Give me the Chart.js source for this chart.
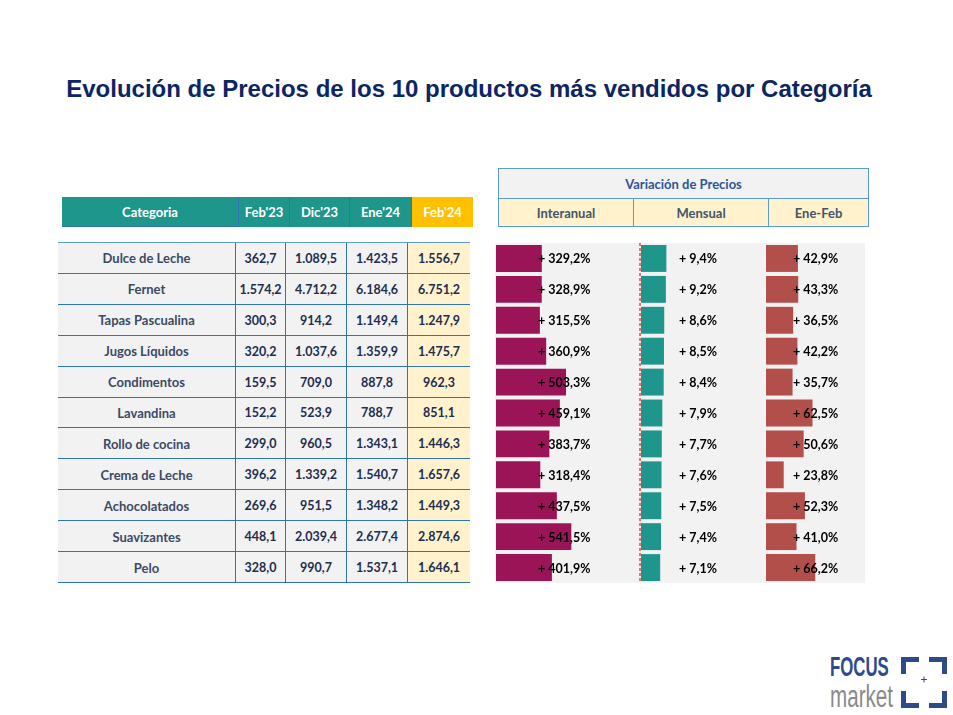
<!DOCTYPE html>
<html lang="es">
<head>
<meta charset="utf-8">
<title>Evolución de Precios</title>
<script src="https://cdn.jsdelivr.net/npm/chart.js@4.4.1/dist/chart.umd.min.js"></script>
<style>
  body { margin: 0; background: #fff; }
  #page { position: relative; width: 953px; height: 715px; overflow: hidden; font-family: Lato, "Open Sans", sans-serif; }
  .abs { position: absolute; box-sizing: border-box; }
  .cell { display: flex; align-items: center; justify-content: center; font-weight: bold; white-space: nowrap; }
  #title { left: 0; width: 938px; top: 75px; text-align: center; font: bold 24px "Liberation Sans", Arial, sans-serif; color: #0c2565; }
  canvas { position: absolute; }
</style>
</head>
<body>
<div id="page">
  <div id="title" class="abs">Evolución de Precios de los 10 productos más vendidos por Categoría</div>
</div>
<script>
// datos
const categorias = ["Dulce de Leche", "Fernet", "Tapas Pascualina", "Jugos Líquidos", "Condimentos", "Lavandina",
                    "Rollo de cocina", "Crema de Leche", "Achocolatados", "Suavizantes", "Pelo"];
const periodos = ["Feb'23", "Dic'23", "Ene'24", "Feb'24"];
const feb23 = [362.7, 1574.2, 300.3, 320.2, 159.5, 152.2, 299.0, 396.2, 269.6, 448.1, 328.0];
const dic23 = [1089.5, 4712.2, 914.2, 1037.6, 709.0, 523.9, 960.5, 1339.2, 951.5, 2039.4, 990.7];
const ene24 = [1423.5, 6184.6, 1149.4, 1359.9, 887.8, 788.7, 1343.1, 1540.7, 1348.2, 2677.4, 1537.1];
const feb24 = [1556.7, 6751.2, 1247.9, 1475.7, 962.3, 851.1, 1446.3, 1657.6, 1449.3, 2874.6, 1646.1];
const variaciones = ["Interanual", "Mensual", "Ene-Feb"];
const interanual = [329.2, 328.9, 315.5, 360.9, 503.3, 459.1, 383.7, 318.4, 437.5, 541.5, 401.9];
const mensual = [9.4, 9.2, 8.6, 8.5, 8.4, 7.9, 7.7, 7.6, 7.5, 7.4, 7.1];
const eneFeb = [42.9, 43.3, 36.5, 42.2, 35.7, 62.5, 50.6, 23.8, 52.3, 41.0, 66.2];

const page = document.getElementById('page');
const BLUE = '#2e75b6', LBLUE = '#5b9bd5', TEAL = '#1f968b';
const TOP = 243, BOTTOM = 583, rowH = (BOTTOM - TOP) / categorias.length;

function fmt(v) {
    const parts = v.toFixed(1).split('.');
    return parts[0].replace(/\B(?=(\d{3})+(?!\d))/g, '.') + ',' + parts[1];
}

function box(x, y, w, h, css, text) {
    const d = document.createElement('div');
    d.className = 'abs' + (text !== undefined ? ' cell' : '');
    d.style.left = x + 'px'; d.style.top = y + 'px';
    d.style.width = w + 'px'; d.style.height = h + 'px';
    Object.assign(d.style, css || {});
    if (text !== undefined) d.textContent = text;
    page.appendChild(d);
    return d;
}

// encabezado tabla izquierda
const hdrX = [62, 239, 290, 350, 412, 473];
const hdrTxt = ["Categoria"].concat(periodos);
hdrTxt.forEach((t, i) => {
    const last = i === hdrTxt.length - 1;
    box(hdrX[i], 197, hdrX[i + 1] - hdrX[i], 30, {
        background: last ? '#ffc000' : TEAL,
        color: '#fff', fontSize: '13px',
        borderRight: last ? 'none' : '1px solid ' + BLUE,
        borderBottom: i === 0 ? '1.5px solid ' + BLUE : 'none'
    }, t);
});

// filas de la tabla
const colX = [58, 235, 285, 346, 407, 470];
const series = [feb23, dic23, ene24, feb24];
box(58, TOP - 1, 412, 1, { background: LBLUE });
categorias.forEach((c, r) => {
    const y = TOP + r * rowH;
    box(colX[0], y, colX[1] - colX[0], rowH, { background: '#f2f2f2', color: '#3b4a66', fontSize: '13px' }, c);
    series.forEach((s, k) => {
        box(colX[k + 1], y, colX[k + 2] - colX[k + 1], rowH, {
            background: k === 3 ? '#fff2cc' : '#f2f2f2', color: '#1f2d4f', fontSize: '12.5px',
            borderLeft: '1px solid ' + BLUE
        }, fmt(s[r]));
    });
    box(58, Math.round(y + rowH) - 1, 412, r === 5 ? 2 : 1, { background: BLUE });
});

// encabezado variaciones
box(498, 168, 371, 31, { background: '#f2f2f2', border: '1px solid ' + LBLUE, color: '#2e5597', fontSize: '13px' }, 'Variación de Precios');
const varX = [498, 633, 768, 869];
variaciones.forEach((t, i) => {
    box(varX[i], 198, varX[i + 1] - varX[i] + (i < 2 ? 1 : 0), 29, {
        background: '#fff2cc', border: '1px solid ' + LBLUE, color: '#44546a', fontSize: '13px'
    }, t);
});
box(495, TOP, 370, BOTTOM - TOP, { background: '#f2f2f2' });

// logo
const logo = box(828, 650, 122, 62, {});
logo.innerHTML =
    '<div style="position:absolute;left:2px;top:3px;font:bold 28px/28px \'Liberation Sans\',sans-serif;color:#2e4a8a;transform:scaleX(0.6);transform-origin:0 0;">FOCUS</div>' +
    '<div style="position:absolute;left:2px;top:32px;font:31px/29px \'Liberation Sans\',sans-serif;color:#8a8a8a;transform:scaleX(0.665);transform-origin:0 0;">market</div>' +
    '<svg style="position:absolute;left:73px;top:7px" width="47" height="52">' +
    '<path d="M2.5 17 V2.5 H18 M28 2.5 H43.5 V17 M2.5 34 V48.5 H18 M28 48.5 H43.5 V34" fill="none" stroke="#2e4a8a" stroke-width="5"/>' +
    '<path d="M20 22.5 h6 M23 19.5 v6" stroke="#2e4a8a" stroke-width="1"/></svg>';

// barras de variación
const labelsPlugin = {
    id: 'valueLabels',
    afterDatasetsDraw(chart, args, opts) {
        const { ctx, chartArea, scales } = chart;
        const ds = chart.data.datasets[0].data;
        ctx.save();
        if (opts.dashed) {
            const x0 = scales.x.getPixelForValue(0) - 1;
            ctx.strokeStyle = '#e02020';
            ctx.lineWidth = 1.2;
            ctx.setLineDash([3, 2]);
            ctx.beginPath();
            ctx.moveTo(x0, chartArea.top);
            ctx.lineTo(x0, chartArea.bottom);
            ctx.stroke();
            ctx.setLineDash([]);
        }
        ctx.font = 'bold 12.5px Lato, "Open Sans", sans-serif';
        ctx.fillStyle = '#000';
        ctx.textBaseline = 'middle';
        ctx.textAlign = 'left';
        ds.forEach((v, i) => {
            ctx.fillText('+ ' + fmt(v) + '%', chartArea.left + opts.offset, scales.y.getPixelForValue(i) + 1);
        });
        ctx.restore();
    }
};

function barChart(data, color, left, width, max, offset, padLeft, dashed) {
    const cv = document.createElement('canvas');
    cv.width = width; cv.height = BOTTOM - TOP;
    cv.style.left = left + 'px'; cv.style.top = TOP + 'px';
    cv.style.width = width + 'px'; cv.style.height = (BOTTOM - TOP) + 'px';
    page.appendChild(cv);
    return new Chart(cv.getContext('2d'), {
        type: 'bar',
        data: {
            labels: categorias,
            datasets: [{ data: data, backgroundColor: color, barPercentage: 1, categoryPercentage: 0.87 }]
        },
        options: {
            indexAxis: 'y',
            responsive: false,
            animation: false,
            devicePixelRatio: 1,
            layout: { padding: { left: padLeft, right: 0, top: 0, bottom: 0 } },
            scales: {
                x: { display: false, min: 0, max: max },
                y: { display: false }
            },
            plugins: {
                legend: { display: false },
                tooltip: { enabled: false },
                valueLabels: { offset: offset, dashed: dashed }
            }
        },
        plugins: [labelsPlugin]
    });
}

barChart(interanual, '#9b1457', 496, 137, 985, 42, 0, false);
barChart(mensual, TEAL, 639, 129, 47.0, 38, 2, true);
barChart(eneFeb, '#b24f4a', 766, 99, 133, 27, 0, false);
</script>
</body>
</html>
